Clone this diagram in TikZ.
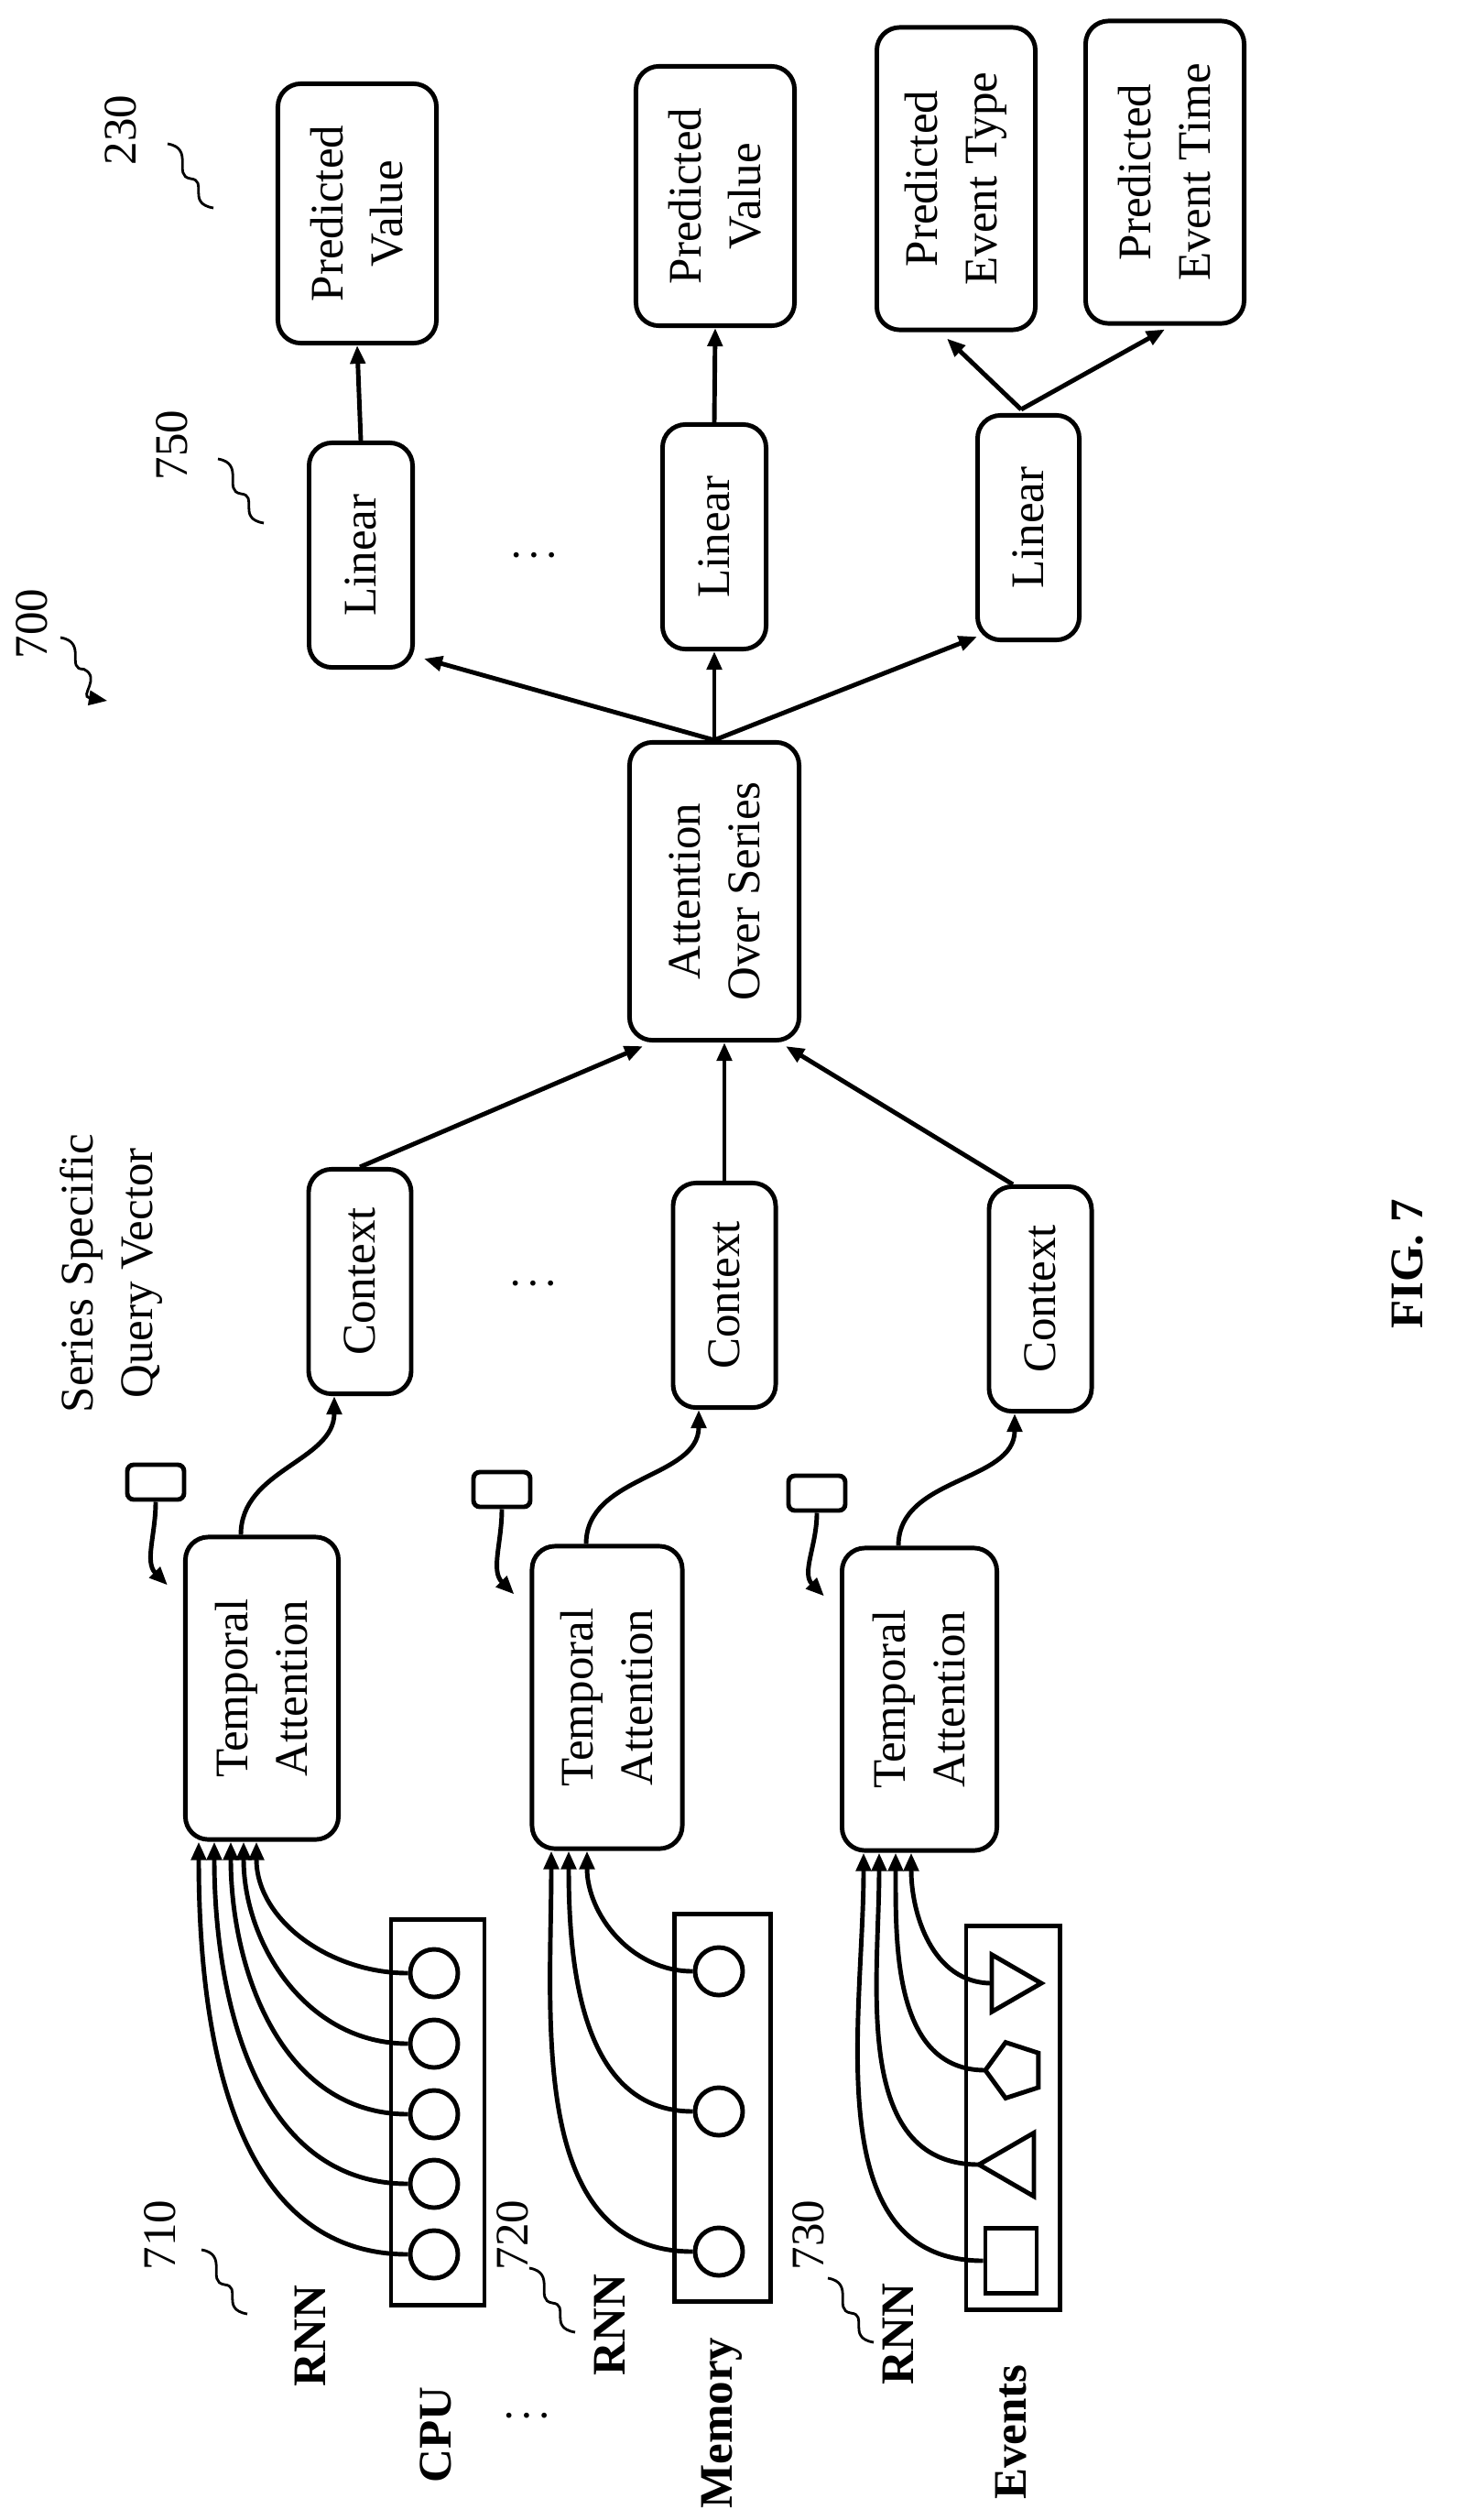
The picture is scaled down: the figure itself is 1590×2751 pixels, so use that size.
\documentclass[tikz,border=0pt]{standalone}
\usepackage{fontspec}
\setmainfont{Liberation Serif}
\usetikzlibrary{arrows.meta,calc,shapes.geometric}

\tikzset{
  box/.style={draw, line width=1.4pt, rounded corners=0.25cm, rotate=90, align=center, inner sep=2pt},
  frame/.style={draw, line width=1.4pt, minimum width=1.02cm, minimum height=4.21cm},
  unit/.style={draw, line width=1.4pt, circle, minimum size=0.52cm, inner sep=0pt},
  lab/.style={rotate=90, font=\fontsize{14.5}{18.5}\selectfont},
  blab/.style={rotate=90, font=\fontsize{14.5}{18.5}\selectfont\bfseries},
  flow/.style={line width=1.4pt, -{Triangle[length=0.2cm,width=0.16cm]}},
  squig/.pic={\draw[line width=0.8pt] (0,0) .. controls (30,-5) and (5,-35) .. (25,-38) .. controls (45,-40) and (20,-65) .. (50,-70);}
}

\begin{document}
\begin{tikzpicture}[x=0.01cm, y=0.01cm, font=\fontsize{14.5}{18.5}\selectfont]
  \useasboundingbox (0,0) rectangle (1590,-2751);

  % outputs
  \node[box, minimum width=2.83cm, minimum height=1.73cm] (pv1) at (390,-233) {Predicted\\Value};
  \node[box, minimum width=2.83cm, minimum height=1.73cm] (pv2) at (781,-214) {Predicted\\Value};
  \node[box, minimum width=3.3cm, minimum height=1.73cm] (pet) at (1044,-195) {Predicted\\Event Type};
  \node[box, minimum width=3.3cm, minimum height=1.73cm] (ptime) at (1272,-188) {Predicted\\Event Time};

  % linear heads
  \node[box, minimum width=2.45cm, minimum height=1.13cm] (lin1) at (394,-606) {Linear};
  \node[box, minimum width=2.45cm, minimum height=1.13cm] (lin2) at (780,-586) {Linear};
  \node[box, minimum width=2.45cm, minimum height=1.11cm] (lin3) at (1123,-576) {Linear};

  \node[box, minimum width=3.25cm, minimum height=1.85cm] (att) at (780,-973) {Attention\\Over Series};

  % contexts
  \node[box, minimum width=2.45cm, minimum height=1.12cm] (ctx1) at (393,-1399) {Context};
  \node[box, minimum width=2.45cm, minimum height=1.12cm] (ctx2) at (791,-1414) {Context};
  \node[box, minimum width=2.45cm, minimum height=1.12cm] (ctx3) at (1136,-1418) {Context};

  % query vectors
  \node[draw, line width=1.4pt, rounded corners=2pt, minimum width=0.62cm, minimum height=0.38cm] (q1) at (170,-1618) {};
  \node[draw, line width=1.4pt, rounded corners=2pt, minimum width=0.62cm, minimum height=0.38cm] (q2) at (548,-1626) {};
  \node[draw, line width=1.4pt, rounded corners=2pt, minimum width=0.62cm, minimum height=0.38cm] (q3) at (892,-1630) {};

  % temporal attention
  \node[box, minimum width=3.3cm, minimum height=1.67cm] (ta1) at (286,-1843) {Temporal\\Attention};
  \node[box, minimum width=3.3cm, minimum height=1.64cm] (ta2) at (663,-1853) {Temporal\\Attention};
  \node[box, minimum width=3.3cm, minimum height=1.69cm] (ta3) at (1004,-1855) {Temporal\\Attention};

  % rnn frames
  \node[frame] (cpu) at (478,-2306) {};
  \foreach \i/\y in {1/2154, 2/2231, 3/2308, 4/2384, 5/2461}
    \node[unit] (cpu\i) at (474,-\y) {};
  \node[frame, minimum width=1.05cm, minimum height=4.22cm] (mem) at (789,-2301) {};
  \foreach \i/\y in {1/2152, 2/2305, 3/2458}
    \node[unit] (mem\i) at (785,-\y) {};
  \node[frame, minimum height=4.19cm] (evt) at (1106,-2312) {};
  \node[draw, line width=1.4pt, regular polygon, regular polygon sides=3, rotate=-90, minimum size=0.72cm, inner sep=0pt] (ev1) at (1101,-2165) {};
  \node[draw, line width=1.4pt, regular polygon, regular polygon sides=5, rotate=90, minimum size=0.64cm, inner sep=0pt] (ev2) at (1108,-2260) {};
  \node[draw, line width=1.4pt, regular polygon, regular polygon sides=3, rotate=90, minimum size=0.8cm, inner sep=0pt] (ev3) at (1109,-2363) {};
  \node[draw, line width=1.4pt, minimum width=0.56cm, minimum height=0.71cm, inner sep=0pt] (ev4) at (1104,-2468) {};

  % labels
  \node[lab] (n230) at (132,-142) {230};
  \node[lab] (n750) at (188,-486) {750};
  \node[lab] (n700) at (35,-681) {700};
  \node[lab] (n710) at (175,-2440) {710};
  \node[lab] (n720) at (560,-2440) {720};
  \node[lab] (n730) at (883,-2440) {730};
  \node[lab, align=center] (qtxt) at (122,-1390) {Series Specific\\Query Vector};
  \node[blab] (rnn1) at (339,-2550) {RNN};
  \node[blab] (rnn2) at (666,-2538) {RNN};
  \node[blab] (rnn3) at (981,-2548) {RNN};
  \node[blab] (lcpu) at (476,-2658) {CPU};
  \node[blab] (lmem) at (788,-2645) {Memory};
  \node[blab] (levt) at (1104,-2655) {Events};
  \node[blab] (fig) at (1537,-1380) {FIG. 7};
  \node[font=\bfseries] (dots1) at (583,-606) {.\hspace{3pt}.\hspace{3pt}.};
  \node[font=\bfseries] (dots2) at (582,-1401) {.\hspace{3pt}.\hspace{3pt}.};
  \node[font=\bfseries] (dots3) at (575,-2637) {.\hspace{3pt}.\hspace{3pt}.};

  \pic at (183,-157) {squig};
  \pic at (238,-501) {squig};
  \pic at (220,-2456) {squig};
  \pic at (578,-2476) {squig};
  \pic at (904,-2487) {squig};
  \coordinate (a700) at (66,-696);
  \coordinate (b700) at (117,-765);
  \draw[line width=0.8pt, -{Triangle[length=0.2cm,width=0.16cm]}] (a700) .. controls (96,-701) and (71,-731) .. ($(a700)!0.5!(b700)$) .. controls (111,-740) and (86,-760) .. (b700);

  % outputs
  \draw[flow] (lin1.east) -- (pv1.west);
  \draw[flow] (lin2.east) -- (pv2.west);
  \draw[flow] ($(lin3.east)+(-8,4)$) -- ($(pet.west)+(-10,-7)$);
  \draw[flow] ($(lin3.east)+(-8,4)$) -- ($(ptime.west)+(0,-4)$);

  \draw[flow] (att.east) -- ($(lin1.south west)+(10,12)$);
  \draw[flow] (att.east) -- (lin2.west);
  \draw[flow] (att.east) -- ($(lin3.north west)+(2,6)$);

  \draw[flow] (ctx1.east) -- ($(att.west)+(-78,-4)$);
  \draw[flow] (ctx2.east) -- (ctx2.east |- att.west);
  \draw[flow] ($(ctx3.east)+(-30,0)$) -- ($(att.west)+(78,-4)$);

  \foreach \n in {1,2,3} {
    \draw[flow] (q\n.south) to[out=-90, in=135] ($(ta\n.north east)+(-17,-55)$);
    \draw[flow] ($(ta\n.east)+(-23,0)$) to[out=90, in=-90] ($(ctx\n.west)+(-28,0)$);
  }

  % rnn states into temporal attention
  \foreach \i/\dx in {1/-6, 2/-20, 3/-34, 4/-52, 5/-69}
    \draw[flow] (cpu\i.west) to[out=180, in=-90] ($(ta1.west)+(\dx,0)$);
  \foreach \i/\dx in {1/-22, 2/-42, 3/-61}
    \draw[flow] (mem\i.west) to[out=180, in=-90] ($(ta2.west)+(\dx,0)$);
  \draw[flow] ($(ev1)+(-18,0)$) to[out=180, in=-90] ($(ta3.west)+(-9,0)$);
  \draw[flow] ($(ev2)+(-32,0)$) to[out=180, in=-90] ($(ta3.west)+(-26,0)$);
  \draw[flow] ($(ev3)+(-40,0)$) to[out=180, in=-90] ($(ta3.west)+(-44,0)$);
  \draw[flow] (ev4.west) to[out=180, in=-90] ($(ta3.west)+(-61,0)$);
\end{tikzpicture}
\end{document}
